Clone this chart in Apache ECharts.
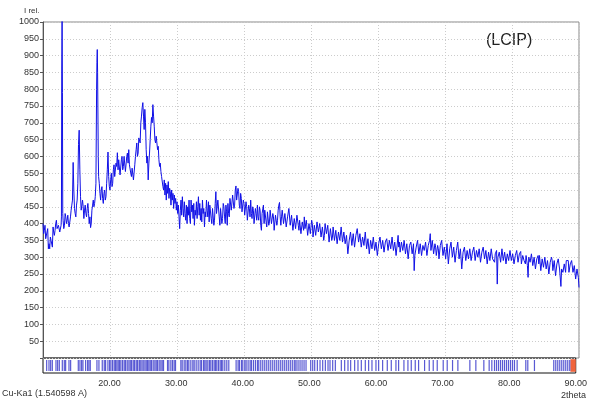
<!DOCTYPE html>
<html><head><meta charset="utf-8">
<script src="https://cdn.jsdelivr.net/npm/echarts@6/dist/echarts.min.js"></script>
<style>html,body{margin:0;padding:0;background:#fff}#c{width:590px;height:402px}</style>
</head><body><div id="c"></div>
<script>
// XRD pattern: [2theta, intensity]
const pattern = [
[10.0,400],[10.1,370],[10.2,380],[10.3,395],[10.4,355],[10.5,360],[10.6,375],[10.7,385],[10.8,325],[10.9,340],
[11.0,325],[11.1,360],[11.2,350],[11.3,345],[11.4,330],[11.5,390],[11.6,375],[11.7,365],[11.8,380],[11.9,400],
[12.0,410],[12.1,385],[12.2,380],[12.3,395],[12.4,400],[12.5,375],[12.6,370],[12.7,395],[12.75,420],[12.8,860],
[12.85,1010],[12.9,790],[12.95,430],
[13.0,410],[13.1,385],[13.2,395],[13.3,430],[13.4,420],[13.5,400],[13.6,410],[13.7,425],[13.8,400],[13.9,390],
[14.0,390],[14.1,420],[14.2,440],[14.3,455],[14.4,470],[14.5,582],[14.6,500],[14.7,445],[14.8,430],[14.9,420],
[15.0,455],[15.1,470],[15.2,520],[15.3,635],[15.4,678],[15.5,560],[15.6,480],[15.7,440],[15.8,455],[15.9,470],
[16.0,450],[16.1,415],[16.2,440],[16.3,455],[16.4,430],[16.5,420],[16.6,445],[16.7,460],[16.8,430],[16.9,400],
[17.0,420],[17.1,388],[17.2,400],[17.3,440],[17.4,455],[17.5,470],[17.6,450],[17.7,460],[17.8,480],[17.9,520],
[18.0,800],[18.05,880],[18.1,918],[18.15,850],[18.25,600],[18.3,540],[18.4,520],[18.5,490],[18.6,470],[18.7,500],
[18.8,510],[18.9,475],
[19.0,460],[19.1,490],[19.2,500],[19.3,470],[19.4,480],[19.5,520],[19.6,560],[19.7,613],[19.8,540],[19.9,510],
[20.0,500],[20.1,530],[20.2,550],[20.3,510],[20.4,520],[20.5,560],[20.6,575],[20.7,540],[20.8,540],[20.9,580],
[21.0,570],[21.1,611],[21.2,560],[21.3,590],[21.4,585],[21.5,545],[21.6,550],[21.7,590],[21.8,600],[21.9,560],
[22.0,570],[22.1,600],[22.2,595],[22.3,555],[22.4,560],[22.5,600],[22.6,610],[22.7,580],[22.8,620],[22.9,575],
[23.0,575],[23.1,550],[23.2,540],[23.3,565],[23.4,560],[23.5,530],[23.6,530],[23.7,575],[23.8,600],[23.9,620],
[24.0,640],[24.1,600],[24.2,610],[24.3,655],[24.4,660],[24.5,640],[24.6,700],[24.7,720],[24.8,745],[24.9,760],
[25.0,720],[25.1,680],[25.2,740],[25.3,700],[25.4,620],[25.5,580],[25.6,600],[25.7,530],[25.8,580],[25.9,610],
[26.0,650],[26.1,690],[26.2,716],[26.3,700],[26.4,754],[26.5,720],[26.6,690],[26.7,650],[26.8,640],[26.9,660],
[27.0,655],[27.1,620],[27.2,630],[27.3,590],[27.4,570],[27.5,580],[27.6,555],[27.7,540],[27.8,545],[27.9,510],
[28.0,500],[28.1,530],[28.2,485],[28.3,520],[28.4,470],[28.5,515],[28.6,490],[28.7,525],[28.8,475],[28.9,505],
[29.0,495],[29.1,455],[29.2,500],[29.3,470],[29.4,490],[29.5,445],[29.6,485],[29.7,460],[29.8,475],[29.9,440],
[30.0,465],[30.1,430],[30.2,455],[30.3,420],[30.4,385],[30.5,440],[30.6,470],[30.7,425],[30.8,480],[30.9,445],
[31.0,420],[31.1,465],[31.2,430],[31.3,410],[31.4,455],[31.5,400],[31.6,450],[31.7,425],[31.8,470],[31.9,415],
[32.0,400],[32.1,470],[32.2,435],[32.3,455],[32.4,415],[32.5,460],[32.6,395],[32.7,440],[32.8,425],[32.9,465],
[33.0,415],[33.1,450],[33.2,480],[33.3,425],[33.4,460],[33.5,410],[33.6,445],[33.7,405],[33.8,470],[33.9,430],
[34.0,445],[34.1,390],[34.2,435],[34.3,420],[34.4,470],[34.5,440],[34.6,420],[34.7,465],[34.8,405],[34.9,455],
[35.0,455],[35.1,415],[35.2,400],[35.3,445],[35.4,440],[35.5,395],[35.6,410],[35.7,460],[35.8,495],[35.9,430],
[36.0,430],[36.1,470],[36.2,465],[36.3,420],[36.4,395],[36.5,445],[36.6,440],[36.7,400],[36.8,415],[36.9,460],
[37.0,450],[37.1,420],[37.2,400],[37.3,455],[37.4,435],[37.5,395],[37.6,460],[37.7,430],[37.8,420],[37.9,475],
[38.0,470],[38.1,440],[38.2,440],[38.3,485],[38.4,480],[38.5,445],[38.6,455],[38.7,500],[38.8,512],[38.9,470],
[39.0,470],[39.1,505],[39.2,495],[39.3,455],[39.4,445],[39.5,490],[39.6,475],[39.7,435],[39.8,430],[39.9,470],
[40.0,460],[40.1,425],[40.2,420],[40.3,465],[40.4,450],[40.5,410],[40.6,405],[40.7,455],[40.8,445],[40.9,420],
[41.0,470],[41.1,430],[41.2,415],[41.3,450],[41.4,440],[41.5,400],[41.6,395],[41.7,445],[41.8,430],[41.9,410],
[42.0,455],[42.1,420],[42.2,410],[42.3,450],[42.4,440],[42.5,395],[42.6,380],[42.7,430],[42.8,425],[42.9,455],
[43.0,400],[43.1,440],[43.2,445],[43.3,405],[43.4,390],[43.5,435],[43.6,430],[43.7,395],[43.8,405],[43.9,440],
[44.0,440],[44.1,400],[44.2,395],[44.3,430],[44.4,420],[44.5,380],[44.6,385],[44.7,425],[44.8,430],[44.9,395],
[45.0,410],[45.1,440],[45.2,455],[45.3,463],[45.4,420],[45.5,395],[45.6,420],[45.7,440],[45.8,435],[45.9,400],
[46.0,400],[46.1,430],[46.2,430],[46.3,390],[46.4,385],[46.5,420],[46.6,415],[46.7,445],[46.8,440],[46.9,395],
[47.0,395],[47.1,425],[47.2,420],[47.3,380],[47.4,375],[47.5,415],[47.6,410],[47.7,385],[47.8,390],[47.9,425],
[48.0,425],[48.1,395],[48.2,380],[48.3,410],[48.4,405],[48.5,370],[48.6,370],[48.7,405],[48.8,400],[48.9,380],
[49.0,420],[49.1,385],[49.2,385],[49.3,410],[49.4,405],[49.5,365],[49.6,365],[49.7,400],[49.8,395],[49.9,370],
[50.0,375],[50.1,410],[50.2,400],[50.3,360],[50.4,360],[50.5,395],[50.6,390],[50.7,365],[50.8,370],[50.9,405],
[51.0,410],[51.1,375],[51.2,375],[51.3,400],[51.4,395],[51.5,360],[51.6,355],[51.7,390],[51.8,385],[51.9,350],
[52.0,365],[52.1,400],[52.2,400],[52.3,370],[52.4,370],[52.5,395],[52.6,390],[52.7,345],[52.8,345],[52.9,385],
[53.0,380],[53.1,350],[53.2,360],[53.3,390],[53.4,385],[53.5,350],[53.6,350],[53.7,380],[53.8,375],[53.9,340],
[54.0,340],[54.1,375],[54.2,370],[54.3,350],[54.4,355],[54.5,390],[54.6,385],[54.7,345],[54.8,345],[54.9,375],
[55.0,370],[55.1,340],[55.2,335],[55.3,365],[55.4,360],[55.5,310],[55.6,310],[55.7,350],[55.8,350],[55.9,375],
[56.0,370],[56.1,335],[56.2,340],[56.3,370],[56.4,365],[56.5,330],[56.6,330],[56.7,365],[56.8,360],[56.9,385],
[57.0,380],[57.1,345],[57.2,345],[57.3,370],[57.4,365],[57.5,330],[57.6,330],[57.7,360],[57.8,355],[57.9,335],
[58.0,340],[58.1,375],[58.2,370],[58.3,325],[58.4,325],[58.5,355],[58.6,350],[58.7,310],[58.8,310],[58.9,350],
[59.0,345],[59.1,325],[59.2,330],[59.3,360],[59.4,355],[59.5,320],[59.6,320],[59.7,345],[59.8,340],[59.9,305],
[60.0,300],[60.1,340],[60.2,335],[60.3,360],[60.4,355],[60.5,325],[60.6,325],[60.7,350],[60.8,345],[60.9,315],
[61.0,315],[61.1,345],[61.2,340],[61.3,355],[61.4,350],[61.5,320],[61.6,320],[61.7,350],[61.8,345],[61.9,325],
[62.0,330],[62.1,360],[62.2,355],[62.3,320],[62.4,320],[62.5,345],[62.6,340],[62.7,305],[62.8,310],[62.9,345],
[63.0,365],[63.1,330],[63.2,345],[63.3,315],[63.4,315],[63.5,345],[63.6,340],[63.7,320],[63.8,325],[63.9,350],
[64.0,345],[64.1,310],[64.2,310],[64.3,340],[64.4,335],[64.5,295],[64.6,295],[64.7,335],[64.8,330],[64.9,345],
[65.0,340],[65.1,310],[65.2,315],[65.3,340],[65.4,260],[65.5,305],[65.6,305],[65.7,330],[65.8,325],[65.9,350],
[66.0,345],[66.1,310],[66.2,315],[66.3,340],[66.4,335],[66.5,305],[66.6,310],[66.7,335],[66.8,330],[66.9,320],
[67.0,320],[67.1,345],[67.2,340],[67.3,305],[67.4,310],[67.5,335],[67.6,330],[67.7,350],[67.8,370],[67.9,320],
[68.0,325],[68.1,350],[68.2,345],[68.3,310],[68.4,315],[68.5,340],[68.6,330],[68.7,305],[68.8,305],[68.9,335],
[69.0,325],[69.1,295],[69.2,300],[69.3,335],[69.4,330],[69.5,350],[69.6,345],[69.7,305],[69.8,310],[69.9,330],
[70.0,325],[70.1,295],[70.2,300],[70.3,340],[70.4,335],[70.5,280],[70.6,285],[70.7,325],[70.8,320],[70.9,345],
[71.0,340],[71.1,300],[71.2,305],[71.3,330],[71.4,325],[71.5,285],[71.6,290],[71.7,320],[71.8,315],[71.9,345],
[72.0,345],[72.1,295],[72.2,300],[72.3,325],[72.4,320],[72.5,265],[72.6,270],[72.7,315],[72.8,310],[72.9,330],
[73.0,325],[73.1,290],[73.2,295],[73.3,320],[73.4,315],[73.5,295],[73.6,300],[73.7,325],[73.8,320],[73.9,290],
[74.0,290],[74.1,315],[74.2,310],[74.3,330],[74.4,325],[74.5,290],[74.6,295],[74.7,320],[74.8,315],[74.9,300],
[75.0,300],[75.1,325],[75.2,320],[75.3,285],[75.4,290],[75.5,315],[75.6,310],[75.7,330],[75.8,325],[75.9,295],
[76.0,300],[76.1,320],[76.2,315],[76.3,280],[76.4,285],[76.5,315],[76.6,310],[76.7,290],[76.8,295],[76.9,325],
[77.0,320],[77.1,295],[77.2,300],[77.3,290],[77.4,285],[77.5,310],[77.6,305],[77.7,320],[77.8,220],[77.9,300],
[78.0,300],[78.1,315],[78.2,310],[78.3,285],[78.4,290],[78.5,325],[78.6,320],[78.7,290],[78.8,295],[78.9,315],
[79.0,310],[79.1,280],[79.2,285],[79.3,310],[79.4,305],[79.5,290],[79.6,295],[79.7,320],[79.8,315],[79.9,290],
[80.0,290],[80.1,310],[80.2,305],[80.3,280],[80.4,285],[80.5,305],[80.6,300],[80.7,320],[80.8,315],[80.9,285],
[81.0,290],[81.1,310],[81.2,305],[81.3,317],[81.4,280],[81.5,285],[81.6,305],[81.7,300],[81.8,290],[81.9,295],
[82.0,280],[82.1,305],[82.2,300],[82.3,275],[82.4,240],[82.5,300],[82.6,300],[82.7,285],[82.8,290],[82.9,310],
[83.0,310],[83.1,275],[83.2,280],[83.3,300],[83.4,295],[83.5,265],[83.6,270],[83.7,295],[83.8,290],[83.9,305],
[84.0,280],[84.1,305],[84.2,300],[84.3,260],[84.4,265],[84.5,295],[84.6,290],[84.7,270],[84.8,275],[84.9,300],
[85.0,295],[85.1,265],[85.2,270],[85.3,290],[85.4,285],[85.5,250],[85.6,255],[85.7,285],[85.8,280],[85.9,300],
[86.0,290],[86.1,260],[86.2,265],[86.3,290],[86.4,285],[86.5,245],[86.6,250],[86.7,280],[86.8,275],[86.9,295],
[87.0,290],[87.1,265],[87.2,270],[87.3,213],[87.4,265],[87.5,270],[87.6,255],[87.7,260],[87.8,280],[87.9,275],
[88.0,255],[88.1,290],[88.2,285],[88.3,295],[88.4,290],[88.5,255],[88.6,260],[88.7,280],[88.8,275],[88.9,290],
[89.0,287],[89.1,255],[89.2,250],[89.3,275],[89.4,270],[89.5,235],[89.6,240],[89.7,265],[89.8,260],[89.9,240],
[90.0,210]
];
// reference line positions shown in the strip below the pattern (2theta)
const refTicks = [10.55,10.9,11.15,11.4,11.95,12.2,12.45,12.9,13.2,13.4,13.9,14.15,15.3,15.55,15.8,16.0,16.4,16.7,16.9,17.1,
18.1,18.4,18.9,19.2,19.4,19.75,20.0,20.2,20.45,20.7,20.9,21.1,21.3,21.5,21.7,21.95,22.2,22.4,22.65,22.9,23.1,23.3,23.55,
23.75,24.0,24.2,24.45,24.6,24.85,25.05,25.3,25.5,25.7,25.9,26.1,26.3,26.55,26.8,27.0,27.2,27.45,27.7,27.9,28.1,28.7,28.9,
29.2,29.45,29.7,29.9,30.7,30.9,31.2,31.45,31.7,31.9,32.2,32.5,32.7,33.0,33.3,33.6,33.8,34.1,34.3,34.5,34.75,35.0,35.2,
35.45,35.7,35.9,36.1,36.35,36.6,36.8,37.0,37.3,37.6,37.9,39.0,39.3,39.5,39.8,40.0,40.3,40.5,40.8,41.1,41.3,41.6,41.9,
42.2,42.4,42.7,43.0,43.3,43.6,43.9,44.2,44.5,44.8,45.1,45.4,45.7,46.0,46.3,46.6,46.9,47.2,47.5,47.8,48.0,48.3,48.6,
48.9,49.2,49.5,50.2,50.5,50.8,51.2,51.6,52.0,52.4,52.8,53.1,53.5,53.9,54.8,55.3,55.8,56.2,56.8,57.3,57.8,58.4,58.9,
59.4,60.0,60.4,61.0,61.7,62.3,63.0,63.4,64.2,64.8,65.3,65.9,66.4,67.3,68.0,68.6,69.2,70.1,70.7,71.5,72.3,74.1,75.0,
76.2,77.0,77.4,77.8,78.1,78.4,78.7,79.0,79.3,79.6,79.9,80.2,80.5,80.8,81.2,82.5,82.8,83.8,86.7,87.0,87.3,87.6,87.9,
88.2,88.5,88.8,89.1];
const markerRange = [89.2, 90];
const xMin = 10, xMax = 90, xStep = 10;
const yMin = 0, yMax = 1000, yStep = 50;

const chart = echarts.init(document.getElementById('c'), null, {renderer:'canvas'});
const font = 'Liberation Sans, Arial, sans-serif';
chart.setOption({
  animation:false,
  backgroundColor:'#fff',
  textStyle:{fontFamily:font},
  graphic:[
    {type:'text', left:24, top:7, style:{text:'I rel.', fontSize:8, fill:'#333', fontFamily:font}},
    {type:'text', left:486, top:33, style:{text:'(LCIP)', fontSize:16, fill:'#222', fontFamily:font}},
    {type:'text', left:2, top:389, style:{text:'Cu-Ka1 (1.540598 A)', fontSize:9, fill:'#333', fontFamily:font}},
    {type:'text', left:561, top:391, style:{text:'2theta', fontSize:9, fill:'#333', fontFamily:font}}
  ],
  grid:[
    {left:43, right:11, top:22, height:336, show:true, borderColor:'#888', borderWidth:1},
    {left:43, right:11, top:358, height:15, show:true, borderColor:'#111', borderWidth:1}
  ],
  xAxis:[
    {gridIndex:0, type:'value', min:xMin, max:xMax, interval:xStep,
     axisLine:{show:false}, axisTick:{show:false}, axisLabel:{show:false},
     splitLine:{show:true, lineStyle:{color:'#ccc', type:[1,2], width:1}}},
    {gridIndex:1, type:'value', min:xMin, max:xMax, interval:xStep,
     axisLine:{show:false}, axisTick:{show:false}, splitLine:{show:false},
     axisLabel:{fontSize:9, color:'#333', margin:6, fontFamily:font,
       formatter:v=> v===xMin ? '' : v.toFixed(2)}}
  ],
  yAxis:[
    {gridIndex:0, type:'value', min:yMin, max:yMax, interval:yStep,
     axisLine:{show:true, lineStyle:{color:'#555'}}, axisTick:{show:true, length:3, lineStyle:{color:'#555'}},
     axisLabel:{fontSize:9, color:'#333', margin:4, fontFamily:font, formatter:v=> v===0 ? '' : String(v)},
     splitLine:{show:true, lineStyle:{color:'#ccc', type:[1,2], width:1}}},
    {gridIndex:1, type:'value', min:0, max:1, show:false}
  ],
  series:[
    {type:'line', xAxisIndex:0, yAxisIndex:0, data:pattern, showSymbol:false, symbol:'none',
     lineStyle:{color:'#1010e6', width:1}, clip:true},
    {type:'scatter', xAxisIndex:1, yAxisIndex:1, data:refTicks.map(t=>[t,0.5]), symbol:'rect',
     symbolSize:[1.2,11], itemStyle:{color:'#3030c8'}, silent:true,
     markArea:{silent:true, itemStyle:{color:'#f0643c'}, data:[[{xAxis:markerRange[0], yAxis:0.08},{xAxis:markerRange[1], yAxis:0.92}]]}}
  ]
});
</script></body></html>
